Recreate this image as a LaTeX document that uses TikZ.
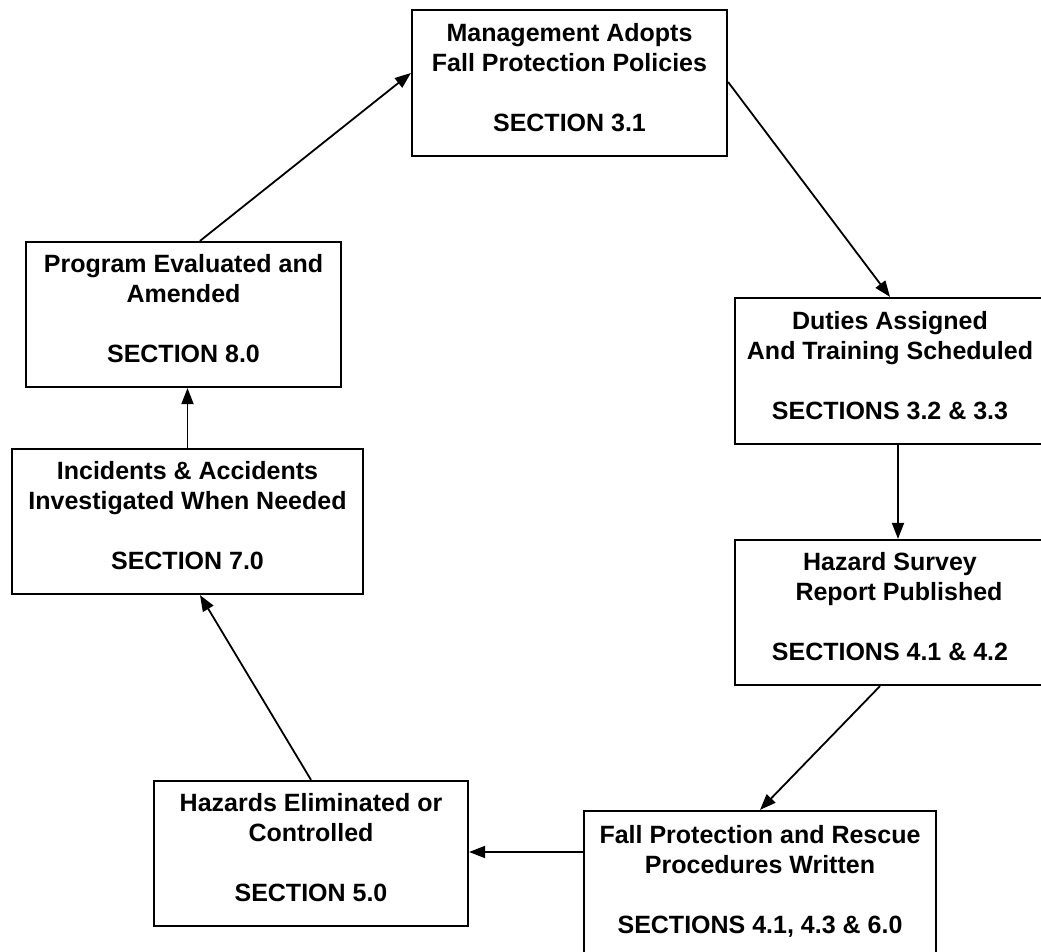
\documentclass[tikz,border=0pt]{standalone}
\usepackage{fontspec}
\setmainfont{Liberation Sans}
\usepackage{tikz}
\usetikzlibrary{arrows.meta,positioning}

\begin{document}
\begin{tikzpicture}[on grid,auto,
    stage/.style={draw,line width=1.1pt,align=center,inner sep=0pt,
      minimum height=72.5pt,font=\fontsize{12.5}{15}\selectfont\bfseries,
      execute at end node={\rule[-6pt]{0pt}{6pt}}},
    flow/.style={line width=0.9pt,-{Triangle[length=8pt,width=6pt]}}]
      \useasboundingbox (0,0) rectangle (520.5pt,-476pt);
      \node[stage,minimum width=157.5pt,minimum height=73pt] (mgmt) at (284.75pt,-41.5pt) {
        Management Adopts\\
        Fall Protection Policies\\[15pt]
        SECTION 3.1
      };
      \node[stage,minimum width=155pt,minimum height=73pt] (duties) [below right= 144pt and 160.25pt of mgmt] {
        Duties Assigned\\
        And Training Scheduled\\[15pt]
        SECTIONS 3.2 \& 3.3
      };
      \node[stage,minimum width=155pt] (survey) [below= 120.75pt of duties] {
        Hazard Survey\\
        \hspace{9pt}Report Published\\[15pt]
        SECTIONS 4.1 \& 4.2
      };
      \node[stage,minimum width=176pt,minimum height=74pt] (procs) [below left= 136.25pt and 65pt of survey] {
        Fall Protection and Rescue\\
        Procedures Written\\[15pt]
        SECTIONS 4.1, 4.3 \& 6.0
      };
      \node[stage,minimum width=157pt] (elim) [above left= 15.75pt and 224.5pt of procs] {
        Hazards Eliminated or\\
        Controlled\\[15pt]
        SECTION 5.0
      };
      \node[stage,minimum width=175.5pt] (incid) [above left= 166pt and 61.75pt of elim] {
        Incidents \& Accidents\\
        Investigated When Needed\\[15pt]
        SECTION 7.0
      };
      \node[stage,minimum width=157.5pt] (eval) [above left= 103.5pt and 2pt of incid] {
        Program Evaluated and\\
        Amended\\[15pt]
        SECTION 8.0
      };

      \path[flow] ([xshift=8.25pt]eval.north) edge ([yshift=5pt]mgmt.west);
      \path[flow] ([yshift=0.5pt]mgmt.east) edge (duties.north);
      \path[flow] ([xshift=4pt]duties.south) edge ([xshift=4pt]survey.north);
      \path[flow] ([xshift=-5pt]survey.south) edge (procs.north);
      \path[flow] ([yshift=16.5pt]procs.west) edge ([yshift=0.75pt]elim.east);
      \path[flow] (elim.north) edge ([xshift=6.25pt]incid.south);
      \path[flow] (incid.north) edge (incid.north |- eval.south);
    \end{tikzpicture}
\end{document}
